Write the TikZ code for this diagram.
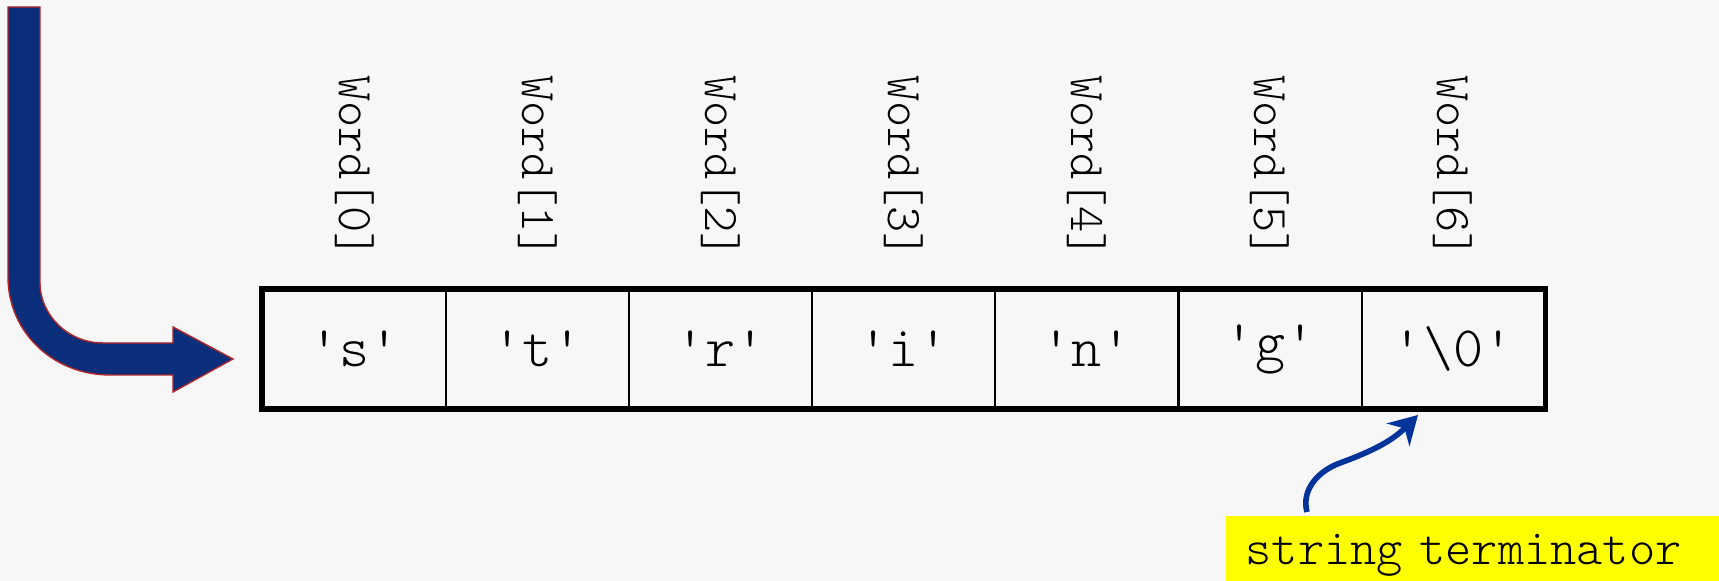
\documentclass[tikz,border=0pt]{standalone}
\usepackage{fontspec}
\setmonofont{Latin Modern Mono Light}
\usetikzlibrary{arrows.meta,calc,positioning}
\definecolor{stpaper}{HTML}{F7F7F7}
\definecolor{stnavy}{HTML}{0B2E7B}
\definecolor{stedge}{HTML}{B0262A}
\definecolor{stblue}{HTML}{00349A}
\definecolor{styellow}{HTML}{FFFF00}
\tikzset{
  cell/.style={rectangle,draw=black,line width=.6pt,minimum width=1.831cm,minimum height=1.18cm,inner sep=0pt,font=\ttfamily\fontsize{16.3}{18}\selectfont},
  idx/.style={rotate=-90,inner sep=0pt,font=\ttfamily\fontsize{14.2}{16}\selectfont},
  frame/.style={draw=black,line width=1.5pt},
  bigarrow/.style={fill=stnavy,draw=stedge,line width=.4pt,line join=miter},
  pointer/.style={-{Stealth[length=2.8mm,width=3.2mm,inset=.9mm]},draw=stblue,line width=1.6pt},
  tag/.style={fill=styellow,text width=4.6cm,align=left,inner xsep=.2cm,minimum height=.8cm,font=\ttfamily\fontsize{14.2}{16}\selectfont},
}
\begin{document}
\begin{tikzpicture}
  \clip (0,0) rectangle (17.19,5.81);
  \fill[stpaper] (0,0) rectangle (17.19,5.81);
  % array cells and their labels
  \foreach \ch [count=\i from 0] in {'s','t','r','i','n','g','\textbackslash 0'} {
    \node[cell] (c\i) at ({3.5455+\i*1.831},2.32) {\ch};
    \node[idx] (w\i) at ({3.5455+\i*1.831},4.14) {Word[\i]};
  }
  \draw[frame] (c0.north west) rectangle (c6.south east);
  % entry arrow
  \draw[bigarrow] (0.08,5.74) -- (0.08,3.04)
    .. controls (0.08,2.49) and (0.53,2.06) .. (1.10,2.06)
    -- (1.73,2.06) -- (1.73,1.89) -- (2.33,2.22) -- (1.73,2.54)
    -- (1.73,2.38) -- (1.03,2.38)
    .. controls (0.68,2.38) and (0.40,2.66) .. (0.40,2.98)
    -- (0.40,5.74) -- cycle;
  % terminator note
  \node[tag,anchor=north west] (term) at (12.25,0.66) {string terminator};
  \coordinate (tip) at (14.18,1.66);
  \draw[pointer] ($(term.north west)+(0.82,0.03)$) to[out=105,in=200] (13.40,1.18) to[out=20,in=225] (tip);
\end{tikzpicture}
\end{document}
